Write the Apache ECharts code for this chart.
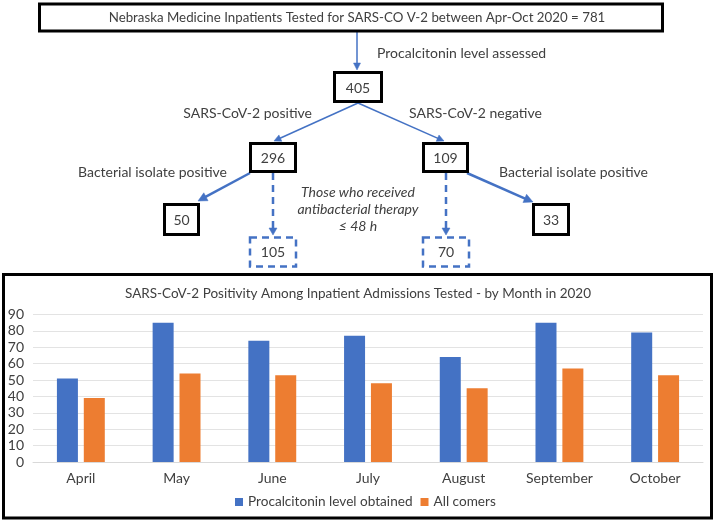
<!DOCTYPE html>
<html>
<head>
<meta charset="utf-8">
<script src="https://cdn.jsdelivr.net/npm/echarts@6/dist/echarts.min.js"></script>
<style>
html,body{margin:0;padding:0;background:#fff;}
#chart{width:716px;height:522px;}
</style>
</head>
<body>
<div id="chart"></div>
<script>
// ---- bar chart data ----
const months = ['April', 'May', 'June', 'July', 'August', 'September', 'October'];
const procalcitoninObtained = [51, 85, 74, 77, 64, 85, 79];
const allComers = [39, 54, 53, 48, 45, 57, 53];
const seriesNames = ['Procalcitonin level obtained', 'All comers'];
const chartTitle = 'SARS-CoV-2 Positivity Among Inpatient Admissions Tested - by Month in 2020';

// ---- flowchart counts ----
const totalTested = 781;
const pctAssessed = 405;
const covidPositive = 296;
const covidNegative = 109;
const posBacterial = 50;
const negBacterial = 33;
const posAntibiotic = 105;
const negAntibiotic = 70;

const FONT = 'Lato, "Liberation Sans", Arial, sans-serif';
const FS = 14;
const BLUE = '#4472C4';
const TXT = '#404040';

function txt(s, x, y, align, opts) {
  opts = opts || {};
  return {
    type: 'text', z: 10, silent: true,
    style: {
      text: s, x: x, y: y,
      font: (opts.italic ? 'italic ' : '') + (opts.size || FS) + 'px ' + FONT,
      fill: opts.color || TXT,
      textAlign: align, align: align,
      textVerticalAlign: 'middle', verticalAlign: 'middle'
    }
  };
}
function box(x, y, w, h, opts) {
  opts = opts || {};
  return {
    type: 'rect', z: 5, silent: true,
    shape: { x: x, y: y, width: w, height: h },
    style: {
      fill: opts.fill || '#fff',
      stroke: opts.stroke || '#000',
      lineWidth: opts.lw || 3,
      lineDash: opts.dash || null
    }
  };
}
function arrow(x1, y1, x2, y2, opts) {
  opts = opts || {};
  const L = opts.hl || 7, W = opts.hw || 3.5;
  const dx = x2 - x1, dy = y2 - y1, len = Math.sqrt(dx * dx + dy * dy);
  const ux = dx / len, uy = dy / len;
  const bx = x2 - ux * L, by = y2 - uy * L;
  const px = -uy, py = ux;
  return [
    {
      type: 'line', z: 4, silent: true,
      shape: { x1: x1, y1: y1, x2: bx + ux * 1, y2: by + uy * 1 },
      style: { stroke: BLUE, lineWidth: opts.lw || 1.5, lineDash: opts.dash || null }
    },
    {
      type: 'polygon', z: 4, silent: true,
      shape: { points: [[x2, y2], [bx + px * W, by + py * W], [bx - px * W, by - py * W]] },
      style: { fill: BLUE, stroke: BLUE, lineWidth: 0.5 }
    }
  ];
}

const g = [];
// outer chart box
g.push({ type: 'rect', z: 1, silent: true, shape: { x: 3.5, y: 274.5, width: 708, height: 243.5 },
  style: { fill: 'none', stroke: '#000', lineWidth: 3 } });
// top box
g.push(box(39.5, 4, 623, 27));
g.push(txt('Nebraska Medicine Inpatients Tested for SARS-CO V-2 between Apr-Oct 2020 = ' + totalTested, 357, 18, 'center', { size: 13.3 }));
// arrow to 405
g.push(...arrow(357, 32, 357, 70, { lw: 1.5, hl: 7, hw: 3.5 }));
g.push(txt('Procalcitonin level assessed', 377, 53, 'left'));
g.push(box(334.5, 72.5, 47, 29));
g.push(txt(String(pctAssessed), 358, 88, 'center'));
// split
g.push(...arrow(358, 103, 274, 141, { lw: 1.5, hl: 7, hw: 3.5 }));
g.push(...arrow(358, 103, 444, 141, { lw: 1.5, hl: 7, hw: 3.5 }));
g.push(txt('SARS-CoV-2 positive', 312, 113, 'right'));
g.push(txt('SARS-CoV-2 negative', 409, 113, 'left'));
g.push(box(250.5, 143.5, 45, 28));
g.push(txt(String(covidPositive), 273, 158, 'center'));
g.push(box(423.5, 143.5, 44, 28));
g.push(txt(String(covidNegative), 445.5, 158, 'center'));
// bacterial
g.push(...arrow(250, 173, 198, 201, { lw: 2.5, hl: 9, hw: 4.5 }));
g.push(...arrow(467, 173, 533, 202, { lw: 2.5, hl: 9, hw: 4.5 }));
g.push(txt('Bacterial isolate positive', 227, 172, 'right'));
g.push(txt('Bacterial isolate positive', 499, 172, 'left'));
g.push(box(164.5, 204.5, 34, 30));
g.push(txt(String(posBacterial), 181.5, 220, 'center'));
g.push(box(533.5, 204.5, 35, 30));
g.push(txt(String(negBacterial), 551, 220, 'center'));
// dashed antibiotic
g.push(...arrow(273, 173, 273, 235, { lw: 2.5, hl: 7, hw: 4, dash: [7, 5] }));
g.push(...arrow(446, 173, 446, 235, { lw: 2.5, hl: 7, hw: 4, dash: [7, 5] }));
g.push(box(250, 237.5, 46, 29, { stroke: BLUE, lw: 2.5, dash: [7, 5] }));
g.push(txt(String(posAntibiotic), 273, 252, 'center'));
g.push(box(423, 237.5, 46, 29, { stroke: BLUE, lw: 2.5, dash: [7, 5] }));
g.push(txt(String(negAntibiotic), 446, 252, 'center'));
g.push(txt('Those who received', 358, 192, 'center', { italic: true }));
g.push(txt('antibacterial therapy', 358, 209, 'center', { italic: true }));
g.push(txt('\u2264 48 h', 358, 226, 'center', { italic: true }));

const chart = echarts.init(document.getElementById('chart'), null, { renderer: 'canvas' });
chart.setOption({
  animation: false,
  backgroundColor: '#fff',
  title: {
    text: chartTitle, left: 'center', top: 287, padding: 0,
    textStyle: { fontFamily: FONT, fontSize: 13.5, fontWeight: 'normal', color: TXT }
  },
  legend: {
    data: seriesNames, left: 235, top: 495, padding: 0,
    icon: 'rect', itemWidth: 8, itemHeight: 8, itemGap: 8,
    textStyle: { fontFamily: FONT, fontSize: 13.6, color: TXT }
  },
  grid: { left: 33, right: 13, top: 314.5, bottom: 60, containLabel: false },
  xAxis: {
    type: 'category', data: months,
    axisLine: { show: true, lineStyle: { color: '#d9d9d9', width: 1 } },
    axisTick: { show: false },
    axisLabel: { fontFamily: FONT, fontSize: FS, color: TXT, margin: 9 }
  },
  yAxis: {
    type: 'value', min: 0, max: 90, interval: 10,
    axisLine: { show: false }, axisTick: { show: false },
    splitLine: { lineStyle: { color: '#e3e3e3', width: 1 } },
    axisLabel: { fontFamily: FONT, fontSize: FS, color: TXT, margin: 9 }
  },
  series: [
    { name: seriesNames[0], type: 'bar', data: procalcitoninObtained, barWidth: 21, barGap: '28%',
      itemStyle: { color: BLUE } },
    { name: seriesNames[1], type: 'bar', data: allComers, barWidth: 21, barGap: '28%',
      itemStyle: { color: '#ED7D31' } }
  ],
  graphic: { elements: g }
});
</script>
</body>
</html>
